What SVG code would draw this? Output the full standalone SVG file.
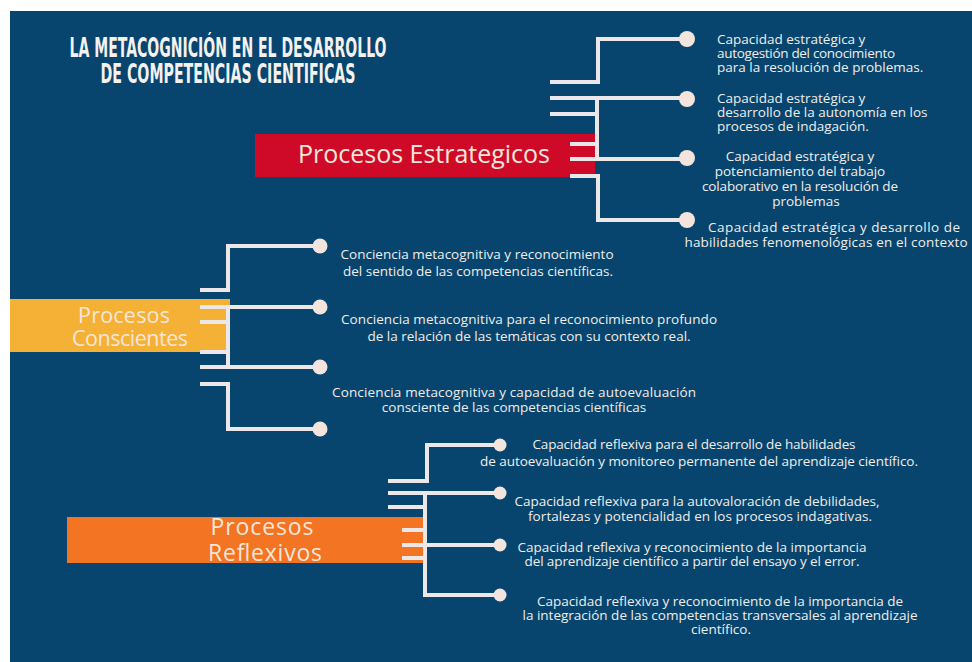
<svg xmlns="http://www.w3.org/2000/svg" width="972" height="662" viewBox="0 0 972 662">
<style>
.title{font-family:"DejaVu Sans Condensed","DejaVu Sans",sans-serif;font-stretch:condensed;font-weight:bold;font-size:27px;fill:#f4f1ee}
.t{font-family:"Open Sans","Liberation Sans",sans-serif;font-size:13.5px;fill:#f1ede9}
.b{font-family:"Open Sans","Liberation Sans",sans-serif;fill:#f7e6da}
.c{fill:none;stroke:#ece8ea;stroke-width:4}
.d{fill:#f3e5dd}
</style>
<rect width="972" height="662" fill="#ffffff"/>
<rect x="10" y="11" width="962" height="651" fill="#07456f"/>
<g id="title">
<text class="title" x="228" y="57" text-anchor="middle" textLength="317" lengthAdjust="spacingAndGlyphs">LA METACOGNICIÓN EN EL DESARROLLO</text>
<text class="title" x="228" y="83" text-anchor="middle" textLength="255" lengthAdjust="spacingAndGlyphs">DE COMPETENCIAS CIENTIFICAS</text>
</g>
<g id="procesos-estrategicos">
<rect x="255" y="134" width="340" height="43" fill="#cf0a28"/>
<text class="b" x="424" y="163" font-size="25" text-anchor="middle" textLength="252">Procesos Estrategicos</text>
</g>
<g id="procesos-conscientes">
<rect x="10" y="299" width="220" height="53" fill="#f5b135"/>
<text class="b" x="124" y="323" font-size="21.5" text-anchor="middle" textLength="92">Procesos</text>
<text class="b" x="130" y="346" font-size="21.5" text-anchor="middle" textLength="116">Conscientes</text>
</g>
<g id="procesos-reflexivos">
<rect x="67" y="517" width="358" height="46" fill="#f37423"/>
<text class="b" x="262" y="535" font-size="23" text-anchor="middle" textLength="103">Procesos</text>
<text class="b" x="265" y="561" font-size="23" text-anchor="middle" textLength="114">Reflexivos</text>
</g>
<g id="connectors">
<path class="c" d="M550,82 H598 V39 H683"/>
<path class="c" d="M550,98 H683"/>
<path class="c" d="M550,114 H597"/>
<path class="c" d="M597,98 V160"/>
<path class="c" d="M570,144 H597"/>
<path class="c" d="M570,159 H683"/>
<path class="c" d="M570,176 H598 V220 H683"/>
<circle class="d" cx="687" cy="39" r="8"/>
<circle class="d" cx="687" cy="99" r="8"/>
<circle class="d" cx="687" cy="158" r="8"/>
<circle class="d" cx="687" cy="220" r="8"/>
<path class="c" d="M200,290 H228 V246 H314"/>
<path class="c" d="M200,307 H314"/>
<path class="c" d="M200,322 H228"/>
<path class="c" d="M200,352 H228"/>
<path class="c" d="M228,305 V369"/>
<path class="c" d="M200,367 H314"/>
<path class="c" d="M200,384 H228 V429 H314"/>
<circle class="d" cx="320" cy="246" r="7.5"/>
<circle class="d" cx="320" cy="307" r="7.5"/>
<circle class="d" cx="320" cy="367" r="7.5"/>
<circle class="d" cx="320" cy="429" r="7.5"/>
<path class="c" d="M388,481 H427 V445 H495"/>
<path class="c" d="M388,493 H495"/>
<path class="c" d="M388,507 H425"/>
<path class="c" d="M425,493 V595 H495"/>
<path class="c" d="M402,530 H425"/>
<path class="c" d="M402,545 H495"/>
<path class="c" d="M402,558 H425"/>
<circle class="d" cx="500" cy="445" r="6.5"/>
<circle class="d" cx="500" cy="493" r="6.5"/>
<circle class="d" cx="500" cy="545" r="6.5"/>
<circle class="d" cx="500" cy="595" r="6.5"/>
</g>
<g id="e1">
<text class="t" x="717" y="44">Capacidad estratégica y</text>
<text class="t" x="717" y="58" textLength="178">autogestión del conocimiento</text>
<text class="t" x="717" y="72">para la resolución de problemas.</text>
</g>
<g id="e2">
<text class="t" x="717" y="103">Capacidad estratégica y</text>
<text class="t" x="717" y="117">desarrollo de la autonomía en los</text>
<text class="t" x="717" y="131">procesos de indagación.</text>
</g>
<g id="e3">
<text class="t" x="800" y="161" text-anchor="middle">Capacidad estratégica y</text>
<text class="t" x="800" y="176" text-anchor="middle">potenciamiento del trabajo</text>
<text class="t" x="800" y="191" text-anchor="middle" textLength="196">colaborativo en la resolución de</text>
<text class="t" x="806" y="206" text-anchor="middle">problemas</text>
</g>
<g id="e4">
<text class="t" x="834" y="232" text-anchor="middle" textLength="252">Capacidad estratégica y desarrollo de</text>
<text class="t" x="826" y="247" text-anchor="middle" textLength="283">habilidades fenomenológicas en el contexto</text>
</g>
<g id="c1">
<text class="t" x="477" y="259" text-anchor="middle" textLength="273">Conciencia metacognitiva y reconocimiento</text>
<text class="t" x="478" y="276" text-anchor="middle">del sentido de las competencias científicas.</text>
</g>
<g id="c2">
<text class="t" x="529" y="324" text-anchor="middle" textLength="376">Conciencia metacognitiva para el reconocimiento profundo</text>
<text class="t" x="529" y="341" text-anchor="middle">de la relación de las temáticas con su contexto real.</text>
</g>
<g id="c3">
<text class="t" x="514" y="397" text-anchor="middle" textLength="364">Conciencia metacognitiva y capacidad de autoevaluación</text>
<text class="t" x="514" y="412" text-anchor="middle">consciente de las competencias científicas</text>
</g>
<g id="r1">
<text class="t" x="694" y="449" text-anchor="middle" textLength="323">Capacidad reflexiva para el desarrollo de habilidades</text>
<text class="t" x="699" y="466" text-anchor="middle" textLength="438">de autoevaluación y monitoreo permanente del aprendizaje científico.</text>
</g>
<g id="r2">
<text class="t" x="697" y="506" text-anchor="middle" textLength="365">Capacidad reflexiva para la autovaloración de debilidades,</text>
<text class="t" x="700" y="521" text-anchor="middle" textLength="344">fortalezas y potencialidad en los procesos indagativas.</text>
</g>
<g id="r3">
<text class="t" x="692" y="552" text-anchor="middle" textLength="349">Capacidad reflexiva y reconocimiento de la importancia</text>
<text class="t" x="692" y="566" text-anchor="middle" textLength="335">del aprendizaje científico a partir del ensayo y el error.</text>
</g>
<g id="r4">
<text class="t" x="720" y="606" text-anchor="middle" textLength="366">Capacidad reflexiva y reconocimiento de la importancia de</text>
<text class="t" x="720" y="620" text-anchor="middle" textLength="395">la integración de las competencias transversales al aprendizaje</text>
<text class="t" x="721" y="634" text-anchor="middle">científico.</text>
</g>
</svg>
